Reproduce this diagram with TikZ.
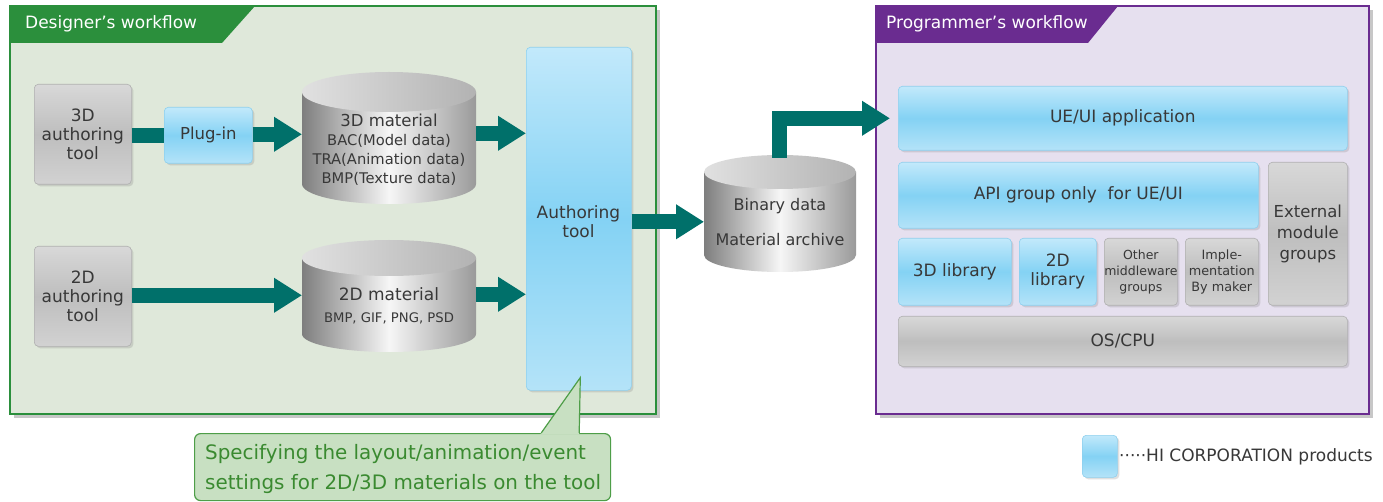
\documentclass[tikz,border=0pt]{standalone}
\usepackage{fontspec}
\setmainfont{DejaVu Sans}
\usetikzlibrary{arrows.meta,shadows,calc}
\definecolor{dgreen}{HTML}{2B8F3C}
\definecolor{dbg}{HTML}{DFE8DA}
\definecolor{ppurple}{HTML}{6A2C90}
\definecolor{pbg}{HTML}{E6E0EF}
\definecolor{arrteal}{HTML}{00706A}
\definecolor{blA}{HTML}{C2E9FB}
\definecolor{blB}{HTML}{84D2F4}
\definecolor{blC}{HTML}{B4E3F8}
\definecolor{blD}{HTML}{8ED0EE}
\definecolor{grA}{HTML}{D8D8D8}
\definecolor{grB}{HTML}{BEBEBE}
\definecolor{grC}{HTML}{D2D2D2}
\definecolor{grD}{HTML}{B0B0B0}
\definecolor{txt}{HTML}{383838}
\definecolor{cfill}{HTML}{C8E0C2}
\definecolor{cline}{HTML}{4E9E48}
\definecolor{ctext}{HTML}{3A8A30}
\definecolor{cylL}{HTML}{7E7E7E}
\definecolor{cylM}{HTML}{F6F6F6}
\definecolor{cylR}{HTML}{9A9A9A}
\newcommand\mycyl[5]{%
  \pgfmathsetmacro\cx{(#1+#2)/2}\pgfmathsetmacro\rx{(#2-#1)/2}%
  \shade[left color=cylL, right color=cylR, middle color=cylM]
    (#1,-#3-#5) -- (#1,-#4+#5) arc[start angle=180,end angle=360,x radius=\rx pt,y radius=#5pt] -- (#2,-#3-#5) -- cycle;
  \shade[left color=black!12, right color=black!30]
    (\cx,-#3-#5) ellipse[x radius=\rx pt, y radius=#5pt];
}
\begin{document}
\begin{tikzpicture}[x=1pt,y=1pt,
  boxbase/.style={rounded corners=4pt, inner sep=0pt, align=center, anchor=north west, text=txt,
     font=\fontsize{17}{19}\selectfont,
     drop shadow={shadow xshift=2pt, shadow yshift=-2pt, opacity=0.25}},
  bluebox/.style={boxbase, draw=blD, line width=0.6pt, top color=blA, bottom color=blC, middle color=blB},
  graybox/.style={boxbase, draw=grD, line width=0.6pt, top color=grA, bottom color=grC, middle color=grB},
  cylarea/.style={inner sep=0pt, anchor=north west},
  cyltext/.style={inner sep=0pt, align=center, text=txt},
  fatarrow/.style={draw=arrteal, line width=15pt, line join=miter, -{Triangle[length=28pt,width=33pt]}, arrteal},
  fatbar/.style={draw=arrteal, line width=15pt},
  titletext/.style={anchor=west, text=white, inner sep=0pt, font=\fontsize{17}{19}\selectfont},
]
\useasboundingbox (0,0) rectangle (1383,-502);
\fill[white] (0,0) rectangle (1383,-502);

% Designer frame
\fill[black!22] (14,-10) rectangle (660,-418);
\filldraw[fill=dbg, draw=dgreen, line width=2.5pt] (10,-6) rectangle (656,-414);
\fill[dgreen] (10,-6) -- (255,-6) -- (222,-43) -- (10,-43) -- cycle;
\node[titletext] (dtitle) at (25,-24) {Designer's workflow};

% Programmer frame
\fill[black!22] (880,-10) rectangle (1373,-418);
\filldraw[fill=pbg, draw=ppurple, line width=2.5pt] (876,-6) rectangle (1369,-414);
\fill[ppurple] (876,-6) -- (1118,-6) -- (1088,-43) -- (876,-43) -- cycle;
\node[titletext] (ptitle) at (886,-24) {Programmer's workflow};

% Designer nodes
\node[graybox, minimum width=97pt, minimum height=100pt] (t3) at (34,-84) {3D\\authoring\\tool};
\node[bluebox, minimum width=88pt, minimum height=56pt, font=\fontsize{16.5}{19}\selectfont] (plug) at (164,-107) {Plug-in};
\node[graybox, minimum width=97pt, minimum height=100pt] (t2) at (34,-246) {2D\\authoring\\tool};
\node[bluebox, minimum width=105pt, minimum height=343pt] (tool) at (526,-47) {};
\node[cyltext, font=\fontsize{17}{19}\selectfont] (tooltext) at (578.5,-222) {Authoring\\tool};

% cylinders
\mycyl{302}{476}{72}{204}{20}
\node[cylarea, minimum width=174pt, minimum height=132pt] (cyl3) at (302,-72) {};
\node[cyltext, font=\fontsize{14.7}{19}\selectfont] (cyl3text) at (389,-150)
  {{\fontsize{16.5}{19}\selectfont 3D material}\\BAC(Model data)\\TRA(Animation data)\\BMP(Texture data)};

\mycyl{302}{476}{240}{352}{18}
\node[cylarea, minimum width=174pt, minimum height=112pt] (cyl2) at (302,-240) {};
\node[cyltext, font=\fontsize{17}{19}\selectfont] (cyl2a) at (389,-294) {2D material};
\node[cyltext, font=\fontsize{13.2}{15}\selectfont] (cyl2b) at (389,-318) {BMP, GIF, PNG, PSD};

\mycyl{704}{856}{155}{272}{17}
\node[cylarea, minimum width=152pt, minimum height=117pt] (bin) at (704,-155) {};
\node[cyltext, font=\fontsize{16}{18}\selectfont] (bina) at (780,-206) {Binary data};
\node[cyltext, font=\fontsize{16}{18}\selectfont] (binb) at (780,-240) {Material archive};

% Programmer nodes
\node[bluebox, minimum width=449pt, minimum height=64pt] (ueui) at (898,-86) {UE/UI application};
\node[bluebox, minimum width=360pt, minimum height=66pt] (api) at (898,-162) {API group only\ \ for UE/UI};
\node[graybox, minimum width=79pt, minimum height=143pt, font=\fontsize{16.5}{21}\selectfont] (ext) at (1268,-162) {External\\module\\groups};
\node[bluebox, minimum width=113pt, minimum height=67pt] (lib3) at (898,-238) {3D library};
\node[bluebox, minimum width=77pt, minimum height=67pt] (lib2) at (1019,-238) {2D\\library};
\node[graybox, minimum width=73pt, minimum height=67pt, font=\fontsize{12.5}{16}\selectfont] (other) at (1104,-238) {Other\\middleware\\groups};
\node[graybox, minimum width=73pt, minimum height=67pt, font=\fontsize{12.8}{16}\selectfont] (impl) at (1185,-238) {Imple-\\mentation\\By maker};
\node[graybox, minimum width=449pt, minimum height=50pt] (os) at (898,-316) {OS/CPU};

% connectors
\draw[fatbar] (t3.east |- plug.west) -- (plug.west);
\draw[fatarrow] ([yshift=1pt]plug.east) -- ([yshift=1pt]plug.east -| cyl3.west);
\draw[fatarrow] ([yshift=2pt]cyl3.east |- plug.east) -- ([yshift=2pt]tool.west |- plug.east);
\draw[fatarrow] ([yshift=1pt]t2.east) -- ([yshift=1pt]t2.east -| cyl2.west);
\draw[fatarrow] ([yshift=2pt]cyl2.east |- t2.east) -- ([yshift=2pt]tool.west |- t2.east);
\draw[fatarrow] ([yshift=-3pt]tool.east) -- ([yshift=-3pt]tool.east -| bin.west);
\draw[fatarrow] ([yshift=-3pt,xshift=-1pt]bin.north) |- ([xshift=-8pt]ueui.west);

% callout
\node[anchor=north west, fill=cfill, draw=cline, line width=1.2pt, rounded corners=6pt,
      minimum width=416pt, minimum height=67pt, inner sep=0pt] (note) at (194,-433) {};
\node[anchor=west, inner sep=0pt, align=left, text=ctext, font=\fontsize{19.9}{30}\selectfont] (notetext) at (205,-469)
  {Specifying the layout/animation/event\\settings for 2D/3D materials on the tool};
\coordinate (tip) at ([xshift=1.5pt,yshift=13pt]tool.south);
\fill[cfill] ($(note.north east)+(-71,-1.5)$) -- (tip) -- ($(note.north east)+(-32,-1.5)$) -- cycle;
\draw[cline, line width=1.2pt] ($(note.north east)+(-70,0)$) -- (tip) -- ($(note.north east)+(-32,0)$);

% legend
\node[bluebox, drop shadow={opacity=0}, minimum width=35pt, minimum height=42pt] (leg) at (1082,-435) {};
\node[anchor=west, inner sep=0pt, text=txt, font=\fontsize{17}{19}\selectfont] (legtext) at (1119,-457) {·····HI CORPORATION products};
\end{tikzpicture}
\end{document}
